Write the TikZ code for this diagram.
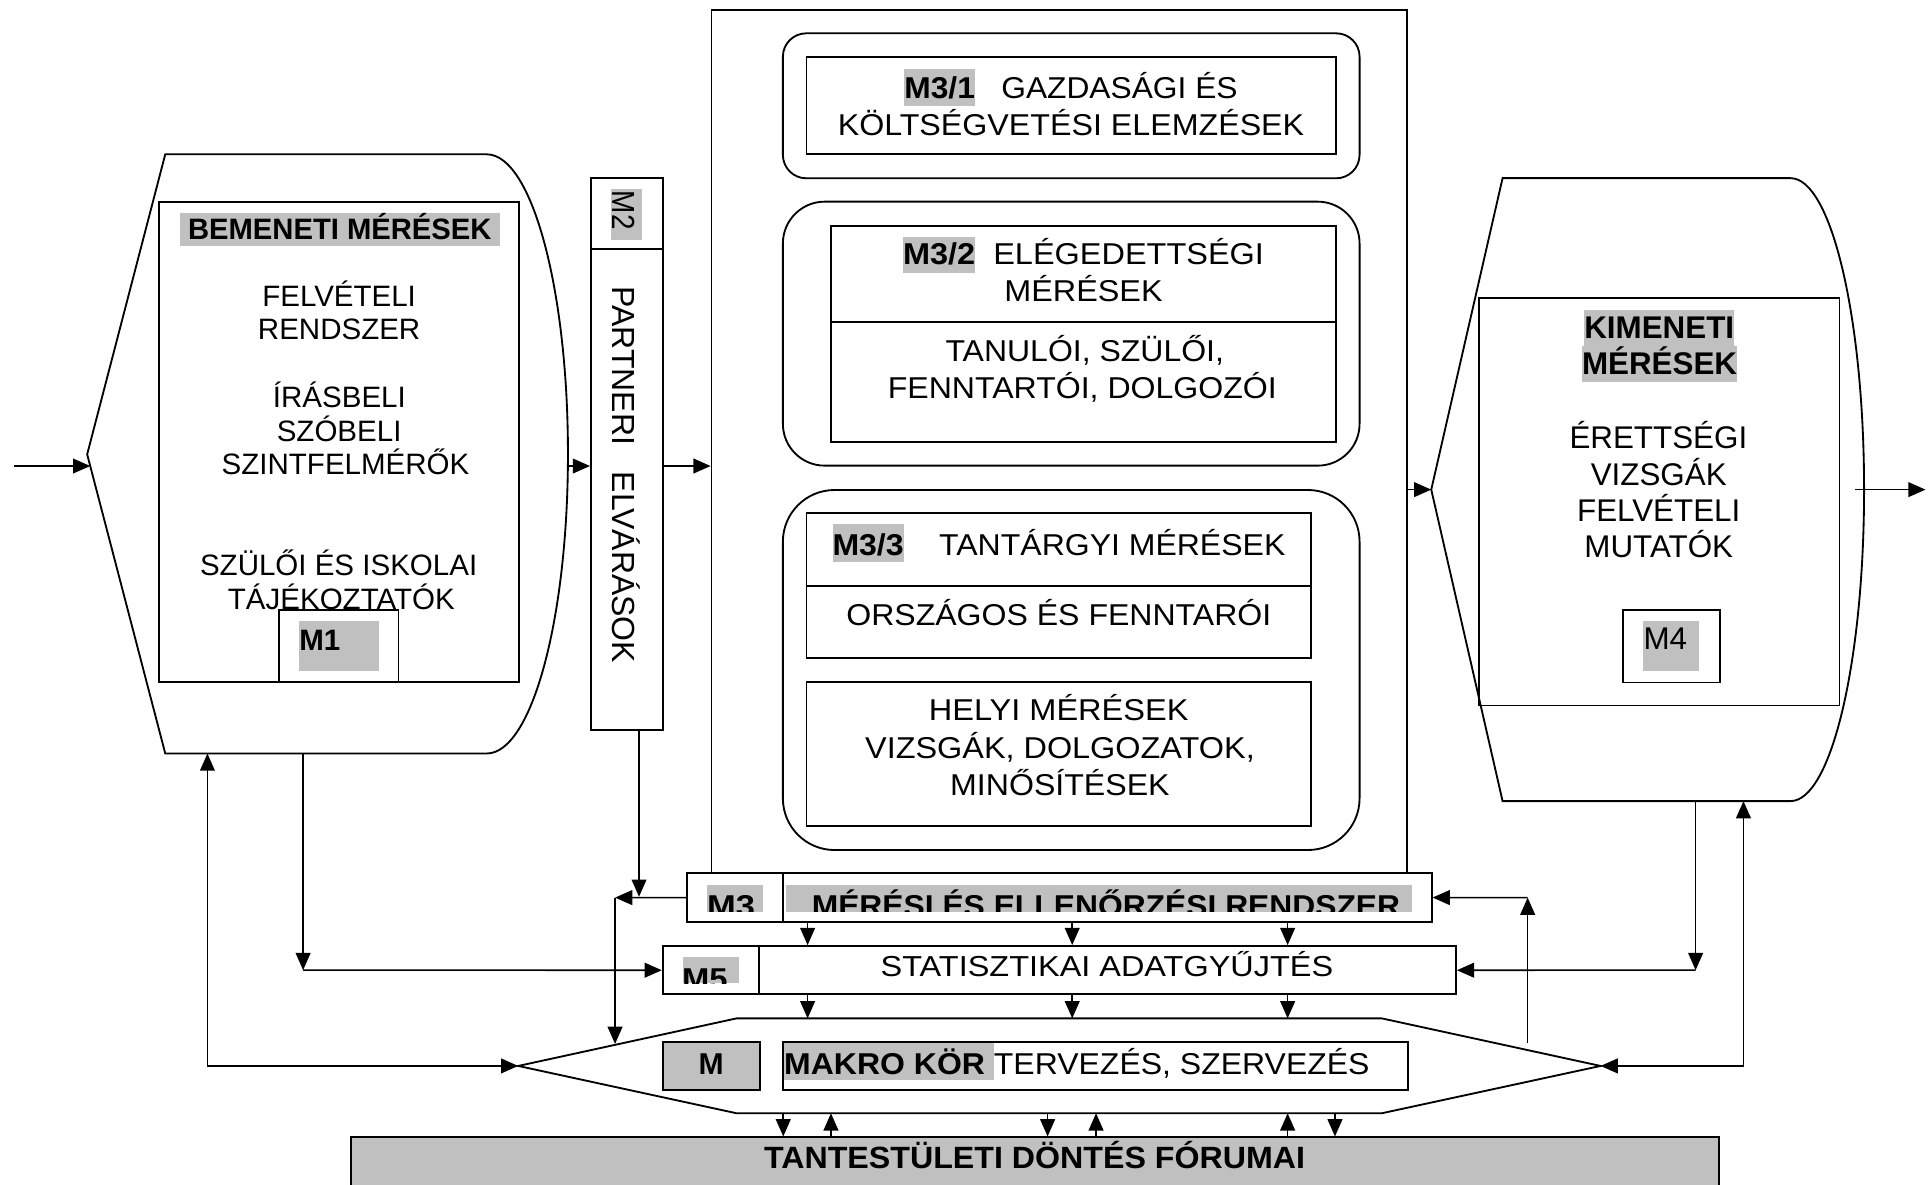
\documentclass[tikz,border=0pt]{standalone}
\usepackage{fontspec}
\setmainfont{Liberation Sans}
\usepackage{graphicx}
\usetikzlibrary{arrows.meta}
\definecolor{hlgray}{HTML}{C0C0C0}
\newcommand{\hl}[3]{{\setlength{\fboxsep}{0pt}\colorbox{hlgray}{\rule[-#2pt]{0pt}{\dimexpr #1pt+#2pt\relax}#3}}}
\newcommand{\fitw}[2]{\resizebox{#1pt}{\height}{#2}}
\newcommand{\fsz}[1]{\fontsize{#1}{#1}\selectfont}
\begin{document}
\begin{tikzpicture}[x=1pt,y=-1pt,
  >={Triangle[length=14pt,width=12pt]},
  outl/.style={line width=1.5pt, line join=miter},
  box/.style={draw, line width=1.5pt, inner sep=0pt},
  t/.style={inner sep=0pt, anchor=base},
  tl/.style={inner sep=0pt, anchor=base west},
  arr/.style={->, line width=1.3pt},
  arrb/.style={<->, line width=1.3pt}]
\useasboundingbox (0,0) rectangle (1568,963);

% ---------------- left shape (input measurements)
\draw[outl] (70.9,369.5) -- (134.4,125.5) -- (395.8,125.5)
  arc[start angle=270,end angle=450,x radius=66.1,y radius=243.65]
  -- (134.4,612.8) -- cycle;
\node[box, minimum width=292.5pt, minimum height=390.4pt] (s1in) at (275.75,359.5) {};
\node[t, font={\fsz{24}\bfseries}] (bem) at (276.35,194.5) {\fitw{260}{\hl{21.5}{5.5}{\ BEMENETI MÉRÉSEK\ }}};
\node[t, font=\fsz{24}] (b1) at (275.8,249.3) {FELVÉTELI};
\node[t, font=\fsz{24}] (b2) at (275.8,276.5) {RENDSZER};
\node[t, font=\fsz{24}] (b3) at (276,331.3) {ÍRÁSBELI};
\node[t, font=\fsz{24}] (b4) at (275.8,358.8) {SZÓBELI};
\node[t, font=\fsz{24}] (b5) at (281,386) {SZINTFELMÉRŐK};
\node[t, font=\fsz{24}] (b6) at (275.4,468.4) {SZÜLŐI ÉS ISKOLAI};
\node[t, font=\fsz{24}] (b7) at (277.6,495.6) {TÁJÉKOZTATÓK};
\node[box, fill=white, minimum width=97.5pt, minimum height=58.5pt] (m1) at (275.35,525.45) {};
\fill[hlgray] (243.1,504.9) rectangle (308.1,546);
\node[tl, font={\fsz{24}\bfseries}] (m1lbl) at (243.2,529.4) {M1};

% ---------------- M2
\node[box, minimum width=58.9pt, minimum height=449pt] (m2) at (510.05,369.2) {};
\draw[outl] (480.6,202.8) -- (539.5,202.8);
\fill[hlgray] (496.6,153.7) rectangle (522,195.2);
\node[t, rotate=-90, font=\fsz{26}] (m2lbl) at (498.5,171) {\fitw{31.5}{M2}};
\node[t, rotate=-90, font=\fsz{26}] (m2txt) at (498.5,386.1) {PARTNERI\ \ \ ELVÁRÁSOK};

% ---------------- big M3 container
\node[box, minimum width=565.8pt, minimum height=702.2pt] (big) at (861.6,359.2) {};

\node[box, rounded corners=19pt, minimum width=469pt, minimum height=117.9pt] (r1) at (871.2,86.05) {};
\node[box, minimum width=430.6pt, minimum height=78.6pt] (r1in) at (871.2,85.9) {};
\node[t, font=\fsz{24.5}] (t11) at (871,80) {\fitw{271}{\hl{24}{6}{\textbf{M3/1}}\ \ \ GAZDASÁGI ÉS}};
\node[t, font=\fsz{24.5}] (t12) at (871,109.8) {\fitw{379.3}{KÖLTSÉGVETÉSI ELEMZÉSEK}};

\node[box, rounded corners=34pt, minimum width=469pt, minimum height=214.7pt] (r2) at (871.2,271.35) {};
\node[box, minimum width=410.7pt, minimum height=175.9pt] (r2in) at (881.15,271.75) {};
\draw[outl] (675.8,262.1) -- (1086.5,262.1);
\node[t, font=\fsz{24.5}] (t21) at (881.2,215.5) {\fitw{293.5}{\hl{23}{6.8}{\textbf{M3/2}}\ \ ELÉGEDETTSÉGI}};
\node[t, font=\fsz{24.5}] (t22) at (881.2,245.3) {\fitw{128.7}{MÉRÉSEK}};
\node[t, font=\fsz{24.5}] (t23) at (882.2,294) {\fitw{226.5}{TANULÓI, SZÜLŐI,}};
\node[t, font=\fsz{24.5}] (t24) at (880.2,324) {\fitw{316.4}{FENNTARTÓI, DOLGOZÓI}};

\node[box, rounded corners=42pt, minimum width=469pt, minimum height=292.8pt] (r3) at (871.2,544.9) {};
\node[box, minimum width=410.6pt, minimum height=117.4pt] (r3a) at (861.2,476.2) {};
\draw[outl] (655.9,476.6) -- (1066.5,476.6);
\node[box, minimum width=410.6pt, minimum height=117.4pt] (r3b) at (861.2,613.1) {};
\node[t, font=\fsz{24.5}] (t31) at (861.2,451.4) {\fitw{368.3}{\hl{25.4}{5.4}{\textbf{M3/3}}\ \ \ \ TANTÁRGYI MÉRÉSEK}};
\node[t, font=\fsz{24.5}] (t32) at (861.1,508.3) {\fitw{345.6}{ORSZÁGOS ÉS FENNTARÓI}};
\node[t, font=\fsz{24.5}] (t33) at (861,586) {\fitw{211.2}{HELYI MÉRÉSEK}};
\node[t, font=\fsz{24.5}] (t34) at (862,616.7) {\fitw{316.8}{VIZSGÁK, DOLGOZATOK,}};
\node[t, font=\fsz{24.5}] (t35) at (862,646.6) {\fitw{178.4}{MINŐSÍTÉSEK}};

% ---------------- right shape (output measurements)
\draw[outl] (1164,398.2) -- (1222,144.9) -- (1456.2,144.9)
  arc[start angle=270,end angle=450,x radius=59.8,y radius=253.3]
  -- (1222,651.5) -- cycle;
\node[box, minimum width=293pt, minimum height=331.5pt] (s2in) at (1349.5,408.05) {};
\node[t, font={\fsz{25.5}\bfseries}] (k1) at (1349.4,275.5) {\hl{23.7}{5.5}{KIMENETI}};
\node[t, font={\fsz{25.5}\bfseries}] (k2) at (1349.7,304.7) {\hl{23.7}{6}{MÉRÉSEK}};
\node[t, font=\fsz{25.5}] (k3) at (1348.7,364.7) {ÉRETTSÉGI};
\node[t, font=\fsz{25.5}] (k4) at (1349,394.6) {VIZSGÁK};
\node[t, font=\fsz{25.5}] (k5) at (1349,424.5) {FELVÉTELI};
\node[t, font=\fsz{25.5}] (k6) at (1349,453.8) {MUTATÓK};
\node[box, fill=white, minimum width=79.2pt, minimum height=59.2pt] (m4) at (1359.2,525.4) {};
\fill[hlgray] (1336.2,505) rectangle (1381.7,546);
\node[tl, font=\fsz{25.5}] (m4lbl) at (1336.5,528) {M4};

% ---------------- bars
\node[box, fill=white, minimum width=605.8pt, minimum height=39.3pt] (m3bar) at (861.4,729.95) {};
\node[box, fill=white, minimum width=645.1pt, minimum height=39.3pt] (m5bar) at (861.55,789.05) {};
\begin{scope}
  \clip (558.5,700) rectangle (1164.3,741.4);
  \fill[hlgray] (574.7,719.8) rectangle (620.3,741.4);
  \fill[hlgray] (639.2,719.8) rectangle (1148.1,741.4);
  \node[tl, font={\fsz{24.5}\bfseries}] (m3lbl) at (574.8,745.5) {\fitw{39}{M3}};
  \node[tl, font={\fsz{24.5}\bfseries}] (m3title) at (660,745.5) {\fitw{478.5}{MÉRÉSI ÉS ELLENŐRZÉSI RENDSZER}};
\end{scope}
\begin{scope}
  \clip (539,760) rectangle (1184,799.7);
  \fill[hlgray] (555.7,778) rectangle (601,799.7);
  \node[tl, font={\fsz{24.5}\bfseries}] (m5lbl) at (554.5,805) {\fitw{37}{M5}};
\end{scope}
\draw[outl] (636.5,710.3) -- (636.5,749.6);
\draw[outl] (617.6,769.4) -- (617.6,808.7);
\node[tl, font=\fsz{23.5}] (stat) at (716,794) {\fitw{368}{STATISZTIKAI ADATGYŰJTÉS}};

% ---------------- macro hexagon
\draw[outl] (421.5,866.9) -- (599.1,828.2) -- (1123.7,828.2) -- (1301.7,866.9)
  -- (1123.7,905.4) -- (599.1,905.4) -- cycle;
\node[box, fill=hlgray, minimum width=79pt, minimum height=39.3pt] (mbox) at (578.5,867.05) {};
\node[t, font={\fsz{24.5}\bfseries}] (mlbl) at (578.3,874) {M};
\node[box, minimum width=508.3pt, minimum height=39.3pt] (makro) at (890.65,867.05) {};
\node[tl, font=\fsz{24.5}] (makrotxt) at (637.6,874) {\fitw{476}{\hl{25.5}{4.3}{\textbf{MAKRO KÖR}\ }TERVEZÉS, SZERVEZÉS}};

% ---------------- forum
\node[box, fill=hlgray, minimum width=1112.5pt, minimum height=60pt] (forum) at (841.75,955) {};
\node[t, font={\fsz{25}\bfseries}] (forumtxt) at (841.4,950.5) {\fitw{440}{TANTESTÜLETI DÖNTÉS FÓRUMAI}};

% ---------------- coordinates
\coordinate (inbeg) at (11.2,379);
\coordinate (s1w) at (73.4,379);
\coordinate (s1e) at (462,379);
\coordinate (s1b1) at (168.7,612.8);
\coordinate (s1b2) at (246.5,612.8);
\coordinate (s2w) at (1164,398.2);
\coordinate (s2e) at (1508.5,398.2);
\coordinate (outend) at (1566,398.2);
\coordinate (s2b1) at (1379,651.5);
\coordinate (s2b2) at (1417.9,651.5);
\coordinate (hexW) at (421.5,866.9);
\coordinate (hexE) at (1301.7,866.9);
\coordinate (hexUL) at (500.2,849);
\coordinate (hexUR) at (1242.4,848);
\coordinate (hexTop) at (861,828.2);
\coordinate (hexBot) at (861,905.4);
\coordinate (c3l) at (500.2,730);
\coordinate (j1) at (519.7,729.3);
\coordinate (c5l) at (246.5,789);
\coordinate (c5r) at (1379,789);
\coordinate (c3r) at (1242.4,730);
\coordinate (xa) at (656.8,0);
\coordinate (xb) at (872,0);
\coordinate (xc) at (1047.2,0);
\coordinate (xd) at (637,0);
\coordinate (xe) at (675.8,0);
\coordinate (xf) at (852,0);
\coordinate (xg) at (891.4,0);
\coordinate (xh) at (1085.7,0);

% ---------------- connectors
\draw[arr] (inbeg) -- (s1w);
\draw[arr] (s1e) -- (m2.west |- s1e);
\draw[arr] (m2.east |- s1e) -- (big.west |- s1e);
\draw[arr] (big.east |- s2w) -- (s2w);
\draw[arr] (s2e) -- (outend);
\draw[arr] (j1 |- m2.south) -- (j1);
\draw[arr] (m3bar.west) -- (c3l);
\draw[arr] (c3l) -- (hexUL);
\draw[arr] (s1b2) -- (c5l);
\draw[arr] (c5l) -- (m5bar.west);
\draw[arrb] (s1b1) |- (hexW);
\draw[arr] (s2b1) -- (c5r);
\draw[arr] (c5r) -- (m5bar.east);
\draw[arrb] (s2b2) |- (hexE);
\draw[arr] (hexUR) -- (c3r);
\draw[arr] (c3r) -- (m3bar.east);
\foreach \c in {xa,xb,xc} {
  \draw[arr] (\c |- m3bar.south) -- (\c |- m5bar.north);
  \draw[arr] (\c |- m5bar.south) -- (\c |- hexTop);
}
\foreach \c in {xd,xf,xh} \draw[arr] (\c |- hexBot) -- (\c |- forum.north);
\foreach \c in {xe,xg,xc} \draw[arr] (\c |- forum.north) -- (\c |- hexBot);
\end{tikzpicture}
\end{document}
